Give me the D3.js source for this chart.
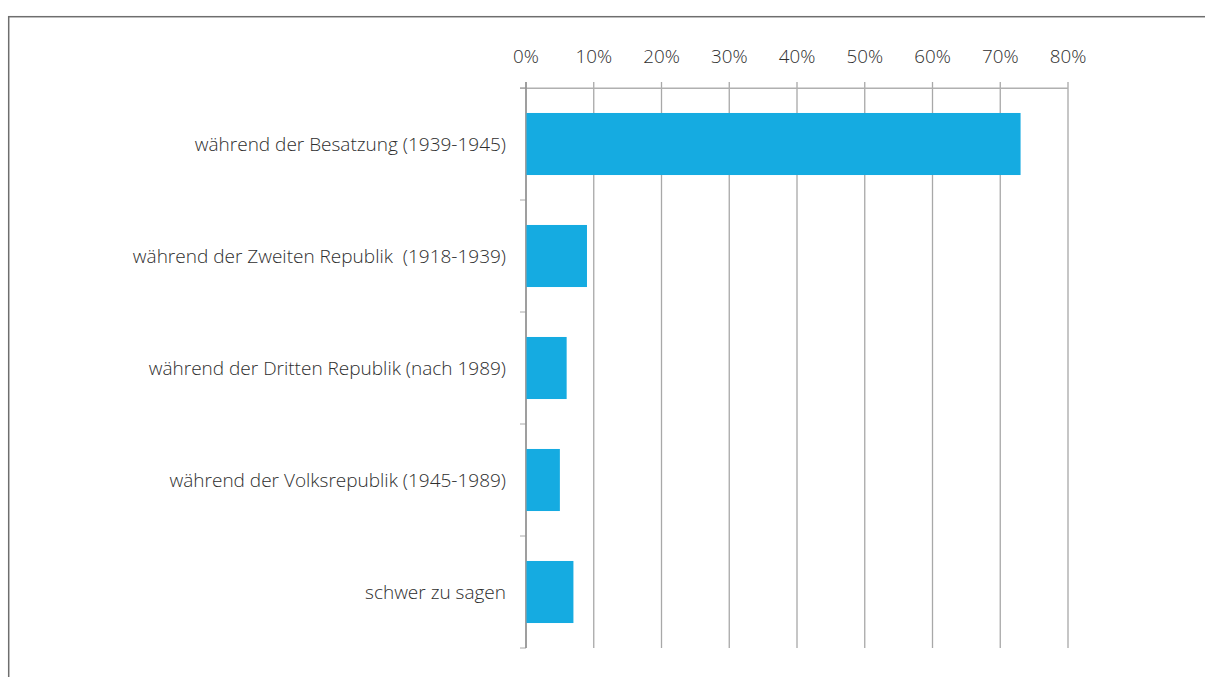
<!DOCTYPE html>
<html>
<head>
<meta charset="utf-8">
<script src="https://cdn.jsdelivr.net/npm/d3@7"></script>
<style>
  body { margin: 0; background: #fff; }
  text { font-family: "Open Sans", sans-serif; font-weight: 300; fill: #2e2e2e; }
</style>
</head>
<body>
<script>
var categories = [
    "während der Besatzung (1939-1945)",
    "während der Zweiten Republik  (1918-1939)",
    "während der Dritten Republik (nach 1989)",
    "während der Volksrepublik (1945-1989)",
    "schwer zu sagen"
];
var values = [73, 9, 6, 5, 7];
var xTicks = [0, 10, 20, 30, 40, 50, 60, 70, 80];

var width = 1205,
    height = 677;

var svg = d3.select("body").append("svg")
    .attr("width", width)
    .attr("height", height);

// outer frame, only top and left edges show in the window
svg.append("rect")
    .attr("x", 8.7).attr("y", 16.7)
    .attr("width", 1400).attr("height", 900)
    .attr("fill", "none")
    .attr("stroke", "#6e6e6e")
    .attr("stroke-width", 1.5);

var x = d3.scaleLinear().domain([0, 80]).range([526, 1068]);
var y = d3.scaleBand().domain(categories).range([88, 648])
    .paddingInner(0.446).paddingOuter(0.223);

// grid lines
svg.append("g")
    .selectAll("line")
    .data(xTicks)
    .enter()
    .append("line")
    .attr("x1", function (d) { return x(d); })
    .attr("x2", function (d) { return x(d); })
    .attr("y1", 82)
    .attr("y2", 648)
    .attr("stroke", "#a8a8a8")
    .attr("stroke-width", 1.3);

// top axis line
svg.append("line")
    .attr("x1", 520).attr("x2", x(80))
    .attr("y1", 88.3).attr("y2", 88.3)
    .attr("stroke", "#b0b0b0")
    .attr("stroke-width", 1.5);

// tick labels
svg.append("g")
    .selectAll("text")
    .data(xTicks)
    .enter()
    .append("text")
    .attr("x", function (d) { return x(d); })
    .attr("y", 63)
    .attr("text-anchor", "middle")
    .style("font-size", "18.8px")
    .text(function (d) { return d + "%"; });

// left axis ticks at band edges
var edges = categories.map(function (c) { return y(c) - y.step() * y.paddingInner() / 2; });
edges[0] = 88;
edges.push(648);
svg.append("g")
    .selectAll("line")
    .data(edges)
    .enter()
    .append("line")
    .attr("x1", 520).attr("x2", 526)
    .attr("y1", function (d) { return d; })
    .attr("y2", function (d) { return d; })
    .attr("stroke", "#a8a8a8");

svg.append("line")
    .attr("x1", 526).attr("x2", 526)
    .attr("y1", 82).attr("y2", 648)
    .attr("stroke", "#8a8a8a")
    .attr("stroke-width", 1.3);

// bars
svg.append("g")
    .selectAll("rect")
    .data(values)
    .enter()
    .append("rect")
    .attr("x", x(0) + 0.5)
    .attr("y", function (d, i) { return y(categories[i]); })
    .attr("width", function (d) { return x(d) - x(0) - 0.5; })
    .attr("height", y.bandwidth())
    .attr("fill", "#15abe1");

// category labels
svg.append("g")
    .selectAll("text")
    .data(categories)
    .enter()
    .append("text")
    .attr("x", 506)
    .attr("y", function (d) { return y(d) + y.bandwidth() / 2; })
    .attr("dy", "0.35em")
    .attr("text-anchor", "end")
    .style("font-size", "19px")
    .style("white-space", "pre")
    .text(function (d) { return d; });
</script>
</body>
</html>
